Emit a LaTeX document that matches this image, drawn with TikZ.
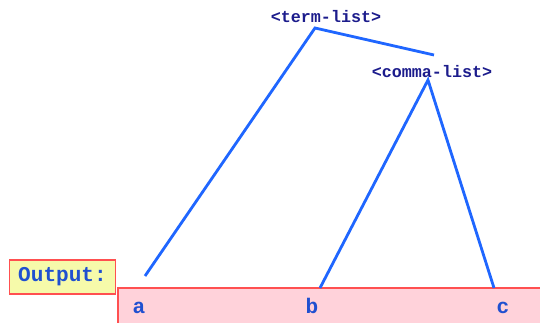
\documentclass[tikz,border=0pt]{standalone}
\usepackage{fontspec}
\setmonofont{Liberation Mono}
\usepackage{xcolor}
\definecolor{treeline}{HTML}{1F66FF}
\definecolor{navytext}{HTML}{1C1C8C}
\definecolor{outblue}{HTML}{2050D0}
\definecolor{boxred}{HTML}{FF5050}
\definecolor{boxyellow}{HTML}{F6FAAA}
\definecolor{barpink}{HTML}{FFD2DA}
\usepackage{tikz}
\usetikzlibrary{positioning}
\newcommand{\sym}[1]{\texttt{\bfseries #1}}

\begin{document}
\begin{tikzpicture}[x=0.02cm, y=0.02cm,
  every node/.style={inner sep=0pt},
  branch/.style={draw=treeline, line width=1.6pt},
  nonterm/.style={text=navytext, font=\fontsize{9.5}{11}\selectfont},
  leaf/.style={text=outblue, font=\fontsize{12}{14}\selectfont}]
\useasboundingbox (0,0) rectangle (540,322);
% output bar and label
\draw[draw=boxred, line width=0.6pt, fill=barpink] (118,-5) rectangle (545,34);
\node[draw=boxred, line width=0.6pt, fill=boxyellow, minimum width=2.12cm, minimum height=0.68cm, anchor=west, leaf] (outlabel) at (9,45) {\sym{Output:}};
\node[leaf, anchor=base] (a) at (139,9) {\sym{a}};
\node[leaf, anchor=base] (b) at (312,9) {\sym{b}};
\node[leaf, anchor=base] (c) at (503,9) {\sym{c}};
% tree
\node[nonterm] (termlist) at (326,305) {\sym{<term-list>}};
\node[nonterm] (commalist) at (432,250) {\sym{<comma-list>}};
\coordinate (tltop) at (315,294);
\coordinate (cltop) at (434,267);
\coordinate (clbot) at (428,242);
\coordinate (aend) at (145,46);
\coordinate (bend) at (320,34);
\coordinate (cend) at (494,34);
\draw[branch] (aend) -- (tltop) -- (cltop);
\draw[branch] (bend) -- (clbot) -- (cend);
\end{tikzpicture}
\end{document}
